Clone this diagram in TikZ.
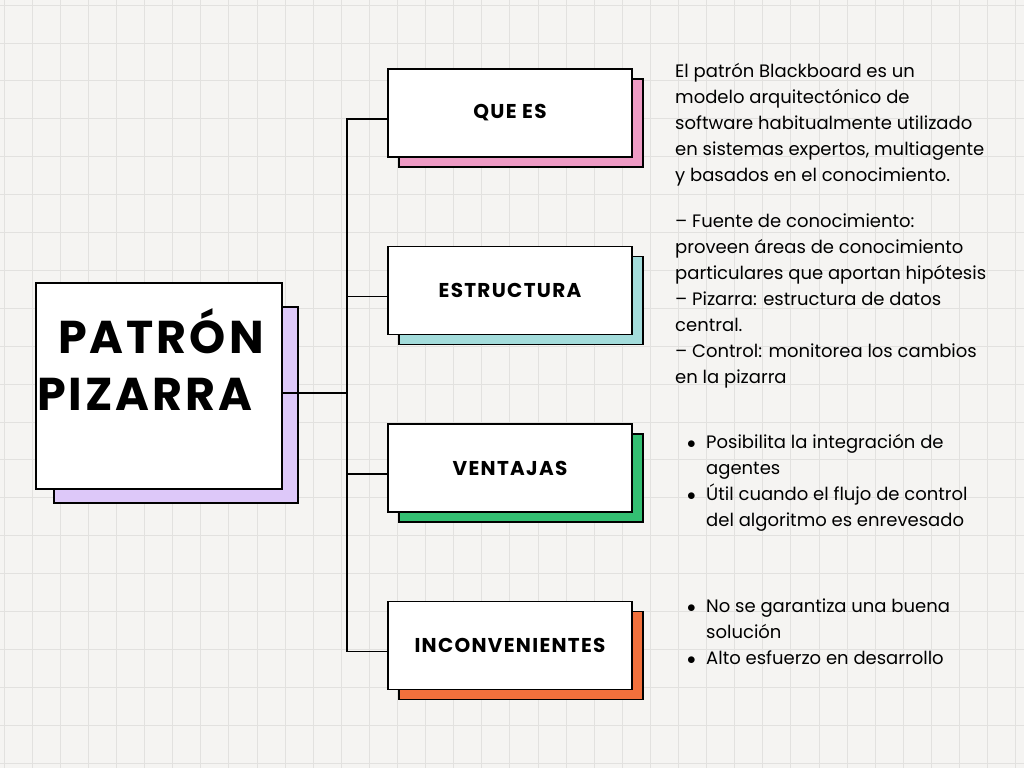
\documentclass[tikz,border=0pt]{standalone}
\usepackage{fontspec}
\setmainfont{Poppins}
\newfontfamily\headfont{Poppins}[LetterSpace=6.5]
\usetikzlibrary{positioning}
\definecolor{paper}{HTML}{F5F4F2}
\definecolor{gridc}{HTML}{E2E1DF}
\definecolor{lilac}{HTML}{DDC8F9}
\definecolor{pinkc}{HTML}{EE9AC4}
\definecolor{tealc}{HTML}{A3DCDB}
\definecolor{greenc}{HTML}{33BF72}
\definecolor{orangec}{HTML}{F2703C}
\pgfdeclarelayer{paperlayer}
\pgfdeclarelayer{shadowlayer}
\pgfsetlayers{paperlayer,shadowlayer,main}
\newcommand{\pitem}{\makebox[20pt][l]{\hspace{1pt}$\bullet$}}
\newcommand{\pcont}{\hspace*{20pt}}

\begin{document}
\begin{tikzpicture}[x=1pt,y=-1pt,
  card/.style={draw=black,fill=white,line width=1.8pt,inner sep=0pt,outer sep=0pt,
    minimum width=244pt,minimum height=88pt,font=\headfont\bfseries\fontsize{20}{24}\selectfont},
  backcard/.style={draw=black,line width=1.8pt},
  link/.style={draw=black,line width=1.8pt},
  body/.style={anchor=base west,inner sep=0pt,align=left,font=\fontsize{18}{26}\selectfont},
  bigtitle/.style={anchor=base west,inner sep=0pt,font=\headfont\bfseries\fontsize{46}{57}\selectfont}]
\useasboundingbox (0,0) rectangle (1024,768);
% paper with grid
\begin{pgfonlayer}{paperlayer}
\fill[paper] (0,0) rectangle (1024,768);
\foreach \i in {0,...,36} \draw[gridc,line width=0.7pt] ({4+28.1*\i},0) -- ({4+28.1*\i},768);
\foreach \j in {0,...,20} \draw[gridc,line width=0.7pt] (0,{5+37.9*\j}) -- (1024,{5+37.9*\j});
\end{pgfonlayer}
% title card
\node[card,minimum width=246pt,minimum height=206pt] (main) at (159,386) {};
\node[bigtitle] (patron) at (58,353) {PATRÓN};
\node[bigtitle] (pizarra) at (37,410) {PIZARRA};
% branch cards
\node[card] (que) at (510,113) {QUE ES};
\node[card,below=89.5pt of que] (est) {ESTRUCTURA};
\node[card,below=89.5pt of est] (ven) {VENTAJAS};
\node[card,below=89.5pt of ven] (inc) {INCONVENIENTES};
% coloured backs
\begin{pgfonlayer}{shadowlayer}
\draw[backcard,fill=lilac] ([shift={(18,24)}]main.north west) rectangle ([shift={(16,14)}]main.south east);
\foreach \n/\c in {que/pinkc,est/tealc,ven/greenc,inc/orangec}
  \draw[backcard,fill=\c] ([shift={(11,10)}]\n.north west) rectangle ([shift={(11,10)}]\n.south east);
\end{pgfonlayer}
% connectors
\coordinate (hub) at (347,393);
\foreach \n in {que,est,ven,inc} \coordinate (\n-in) at ([yshift=-6pt]\n.west);
\draw[link] (main.east |- hub) -- (hub);
\draw[link] (que-in) -| (hub) |- (inc-in);
\draw[link] (est-in) -- (est-in -| hub);
\draw[link] (ven-in) -- (ven-in -| hub);
% texts (anchored at the last line)
\node[body] (what) at (675,181) {El patrón Blackboard es un\\modelo arquitectónico de\\software habitualmente utilizado\\en sistemas expertos, multiagente\\y basados en el conocimiento.};
\node[body] (parts) at (675,383) {– Fuente de conocimiento:\\proveen áreas de conocimiento\\particulares que aportan hipótesis\\– Pizarra: estructura de datos\\central.\\– Control: monitorea los cambios\\en la pizarra};
\node[body] (pros) at (686,526) {\pitem Posibilita la integración de\\\pcont agentes\\\pitem Útil cuando el flujo de control\\\pcont del algoritmo es enrevesado};
\node[body] (cons) at (686,664) {\pitem No se garantiza una buena\\\pcont solución\\\pitem Alto esfuerzo en desarrollo};
\end{tikzpicture}
\end{document}
